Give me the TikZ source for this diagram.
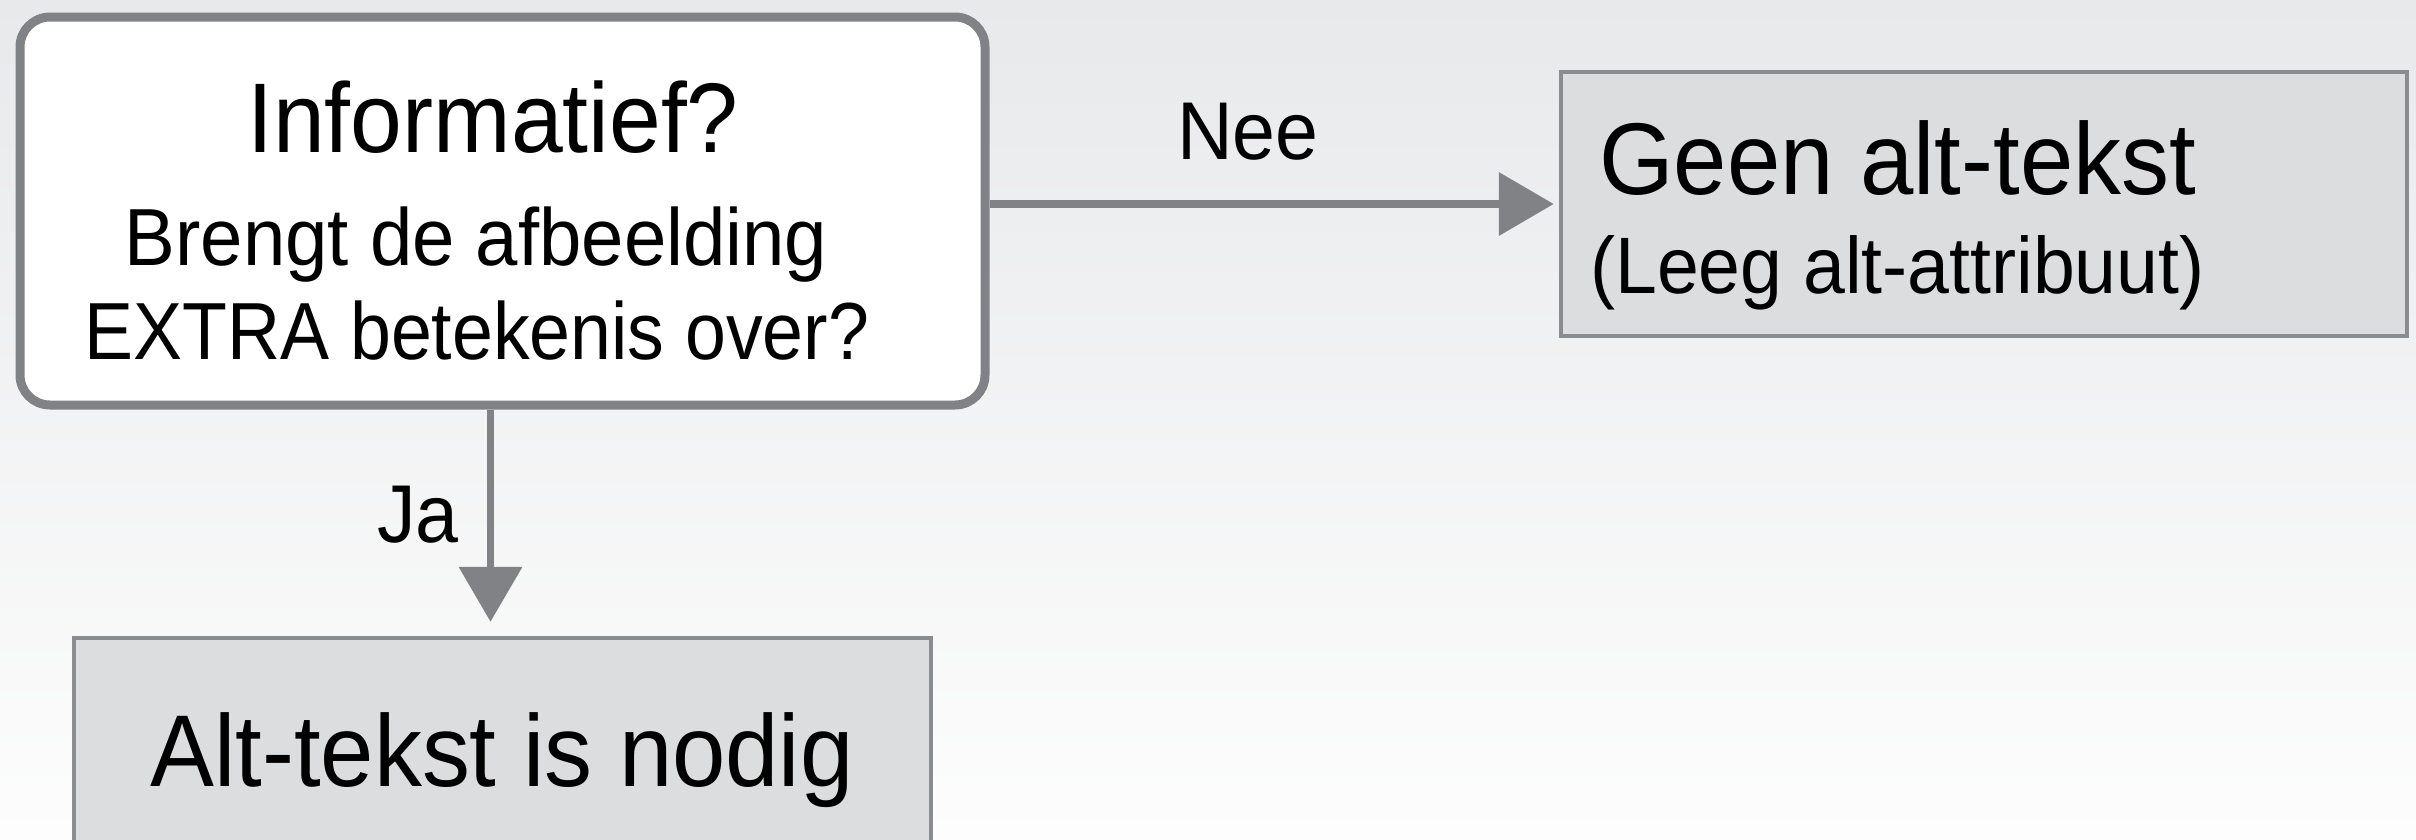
\documentclass[tikz,border=0pt]{standalone}
\usepackage{fontspec}
\setmainfont{Liberation Sans}[FakeStretch=0.94]
\usetikzlibrary{arrows.meta,decorations.pathmorphing,calc}
\definecolor{bgtop}{HTML}{E8E9EB}
\definecolor{bgbot}{HTML}{FDFDFD}
\definecolor{edge}{HTML}{808285}
\definecolor{boxedge}{HTML}{8A8C8F}
\definecolor{boxfill}{HTML}{DCDDDF}
\tikzset{
  sketchbox/.style={draw=edge, fill=white, line width=9pt, rounded corners=30pt},
  graybox/.style={draw=boxedge, fill=boxfill, line width=4.5pt, inner sep=0pt},
  txt/.style={anchor=base, inner sep=0pt, text=black},
  conn/.style={draw=edge, line width=7.5pt, -{Triangle[length=55pt,width=62pt]}},
}
\newcommand{\fs}[1]{\fontsize{#1}{#1}\selectfont}
\begin{document}
\begin{tikzpicture}[x=1pt,y=-1pt]
\useasboundingbox (0,0) rectangle (2416,839);
\shade[top color=bgtop, bottom color=bgbot] (0,0) rectangle (2416,839);

% boxes
\node[sketchbox, minimum width=965pt, minimum height=388pt] (q) at (502.5,211) {};
\node[graybox, minimum width=846pt, minimum height=264pt] (g) at (1984,204) {};
\node[graybox, minimum width=857pt, minimum height=222pt] (a) at (502.5,749) {};

% texts
\node[txt] (t1) at (493,152) {\fs{99}Informatief?};
\node[txt] (t2) at (476,265) {\fs{81}Brengt de afbeelding};
\node[txt] (t3) at (477,359) {\fs{81}\scalebox{0.965}[1]{EXTRA betekenis over?}};
\node[txt, anchor=base west] (t4) at (1599,194) {\fs{102}Geen alt-tekst};
\node[txt, anchor=base west] (t5) at (1590,293) {\fs{80}(Leeg alt-attribuut)};
\node[txt] (t6) at (502,786) {\fs{102}Alt-tekst is nodig};
\node[txt] (nee) at (1248,159) {\fs{82}Nee};
\node[txt] (ja) at (418,542) {\fs{82}Ja};

% connectors
\draw[conn, shorten >=5pt] (q.east |- g.west) -- (g.west);
\coordinate (qa) at ($(q.south)+(-12,0)$);
\draw[conn, shorten >=14pt] (qa) -- (qa |- a.north);
\end{tikzpicture}
\end{document}
